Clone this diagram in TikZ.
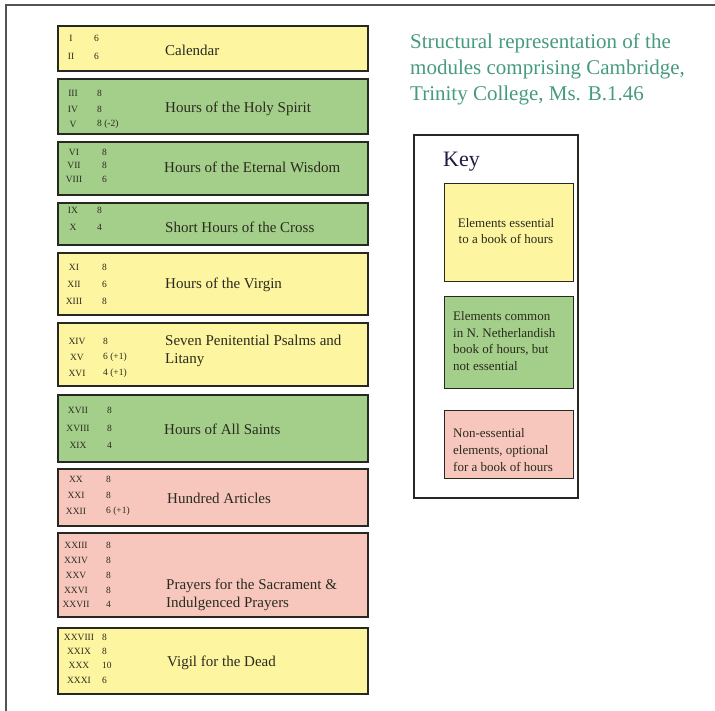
\documentclass[tikz,border=0pt]{standalone}
\usepackage{fontspec}
\setmainfont{Liberation Serif}
\usetikzlibrary{positioning}
\definecolor{essfill}{RGB}{253,245,160}
\definecolor{comfill}{RGB}{164,207,138}
\definecolor{optfill}{RGB}{247,199,190}
\definecolor{boxline}{RGB}{40,40,35}
\definecolor{inktext}{RGB}{42,42,30}
\definecolor{titleteal}{RGB}{70,155,125}
\definecolor{keynavy}{RGB}{30,30,70}
\tikzset{
  module/.style   = {draw=boxline, line width=1.6pt, anchor=north west,
                     inner sep=0pt, minimum width=310pt},
  essential/.style = {module, fill=essfill},
  common/.style   = {module, fill=comfill},
  optional/.style = {module, fill=optfill},
  modtitle/.style = {anchor=west, align=left, text=inktext, inner sep=0pt,
                     font=\fontsize{15}{18}\selectfont},
  quire/.style    = {text=inktext, inner sep=0pt, font=\fontsize{9.5}{11}\selectfont},
  leaves/.style   = {quire, anchor=west},
  keybox/.style   = {draw=boxline, line width=1.4pt, anchor=north west,
                     inner sep=0pt, minimum width=129pt},
  keytext/.style  = {align=left, text=inktext, inner sep=0pt,
                     font=\fontsize{13}{16.7}\selectfont}
}
\begin{document}
\begin{tikzpicture}[x=1pt,y=-1pt]
  \useasboundingbox (0,0) rectangle (715,711);
  \draw[boxline!80, line width=1.5pt] (715,5) -- (6,5) -- (6,711);

  % modules
  \node[essential, minimum height=45pt] (calendar) at (57,25) {};
  \node[modtitle] (calendar-t) at (165,50) {Calendar};
  \foreach \r/\n/\y in {I/6/38, II/6/56}
    {\node[quire] (q\r) at (71,\y) {\r}; \node[leaves] (l\r) at (94,\y) {\n};}

  \node[common, minimum height=55pt] (spirit) at (57,78) {};
  \node[modtitle] (spirit-t) at (165,109) {Hours of the Holy Spirit};
  \foreach \r/\n/\y in {III/8/93, IV/8/109, V/8 (-2)/124}
    {\node[quire] (q\r) at (73,\y) {\r}; \node[leaves] (l\r) at (97,\y) {\n};}

  \node[common, minimum height=53pt] (wisdom) at (57,141) {};
  \node[modtitle] (wisdom-t) at (164,167) {Hours of the Eternal Wisdom};
  \foreach \r/\n/\y in {VI/8/152, VII/8/165, VIII/6/179}
    {\node[quire] (q\r) at (74,\y) {\r}; \node[leaves] (l\r) at (102,\y) {\n};}

  \node[common, minimum height=42pt] (cross) at (57,202) {};
  \node[modtitle] (cross-t) at (165,227) {Short Hours of the Cross};
  \foreach \r/\n/\y in {IX/8/210, X/4/227}
    {\node[quire] (q\r) at (73,\y) {\r}; \node[leaves] (l\r) at (97,\y) {\n};}

  \node[essential, minimum height=62pt] (virgin) at (57,252) {};
  \node[modtitle] (virgin-t) at (165,285) {Hours of the Virgin};
  \foreach \r/\n/\y in {XI/8/267, XII/6/284, XIII/8/301}
    {\node[quire] (q\r) at (74,\y) {\r}; \node[leaves] (l\r) at (102,\y) {\n};}

  \node[essential, minimum height=63pt] (psalms) at (57,322) {};
  \node[modtitle] (psalms-t) at (165,351) {Seven Penitential Psalms and\\Litany};
  \foreach \r/\n/\y in {XIV/8/341, XV/6 (+1)/357, XVI/4 (+1)/373}
    {\node[quire] (q\r) at (77,\y) {\r}; \node[leaves] (l\r) at (103,\y) {\n};}

  \node[common, minimum height=67pt] (saints) at (57,394) {};
  \node[modtitle] (saints-t) at (164,429) {Hours of All Saints};
  \foreach \r/\n/\y in {XVII/8/410, XVIII/8/428, XIX/4/445}
    {\node[quire] (q\r) at (78,\y) {\r}; \node[leaves] (l\r) at (107,\y) {\n};}

  \node[optional, minimum height=57pt] (articles) at (57,468) {};
  \node[modtitle] (articles-t) at (167,498) {Hundred Articles};
  \foreach \r/\n/\y in {XX/8/479, XXI/8/495, XXII/6 (+1)/511}
    {\node[quire] (q\r) at (76,\y) {\r}; \node[leaves] (l\r) at (106,\y) {\n};}

  \node[optional, minimum height=84pt] (prayers) at (57,532) {};
  \node[modtitle] (prayers-t) at (166,595) {Prayers for the Sacrament \&\\Indulgenced Prayers};
  \foreach \r/\n/\y in {XXIII/8/545, XXIV/8/560, XXV/8/575, XXVI/8/590, XXVII/4/604}
    {\node[quire] (q\r) at (76,\y) {\r}; \node[leaves] (l\r) at (106,\y) {\n};}

  \node[essential, minimum height=66pt] (vigil) at (57,627) {};
  \node[modtitle] (vigil-t) at (167,663) {Vigil for the Dead};
  \foreach \r/\n/\y in {XXVIII/8/637, XXIX/8/651, XXX/10/665, XXXI/6/680}
    {\node[quire] (q\r) at (79,\y) {\r}; \node[leaves] (l\r) at (102,\y) {\n};}

  % heading and key
  \node[anchor=west, align=left, text=titleteal, inner sep=0pt,
        font=\fontsize{21}{26}\selectfont] (heading) at (410,69)
        {Structural representation of the\\modules comprising Cambridge,\\Trinity College, Ms. B.1.46};
  \node[draw=boxline, line width=1.6pt, anchor=north west, inner sep=0pt,
        minimum width=164pt, minimum height=363pt] (keypanel) at (413,134) {};
  \node[anchor=west, text=keynavy, inner sep=0pt,
        font=\fontsize{22}{24}\selectfont] (keylabel) at (443,162) {Key};
  \node[keybox, fill=essfill, minimum height=98pt] (keyess) at (444,183) {};
  \node[keytext, align=center] (keyess-t) at (506,231) {Elements essential\\to a book of hours};
  \node[keybox, fill=comfill, minimum height=92pt] (keycom) at (444,296) {};
  \node[keytext, anchor=west] (keycom-t) at (453,341)
        {Elements common\\in N. Netherlandish\\book of hours, but\\not essential};
  \node[keybox, fill=optfill, minimum height=68pt] (keyopt) at (444,410) {};
  \node[keytext, anchor=west] (keyopt-t) at (453,450)
        {Non-essential\\elements, optional\\for a book of hours};
\end{tikzpicture}
\end{document}
